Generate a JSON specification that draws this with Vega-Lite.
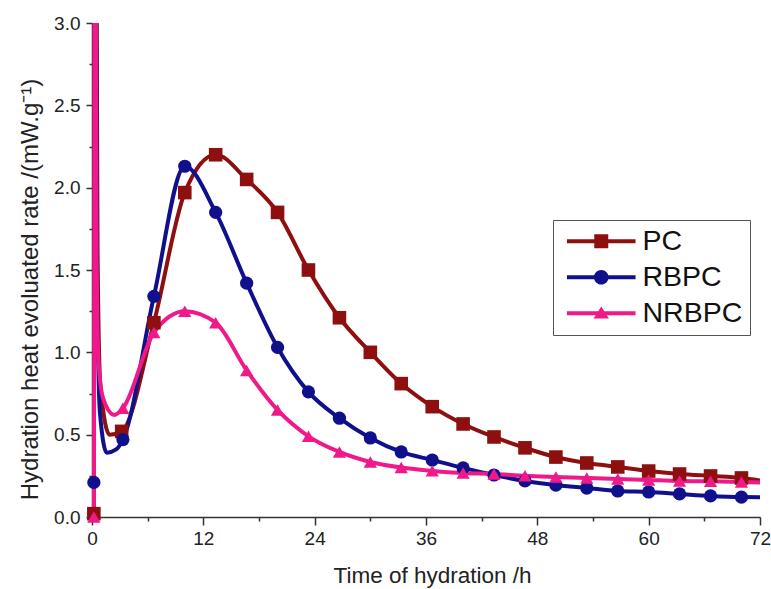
{
  "$schema": "https://vega.github.io/schema/vega-lite/v6.json",
  "width": 668,
  "height": 494,
  "autosize": "none",
  "padding": {"left": 92, "top": 23, "right": 11, "bottom": 72},
  "background": "white",
  "config": {
    "view": {"stroke": null},
    "font": "Liberation Sans",
    "axis": {
      "grid": false,
      "domainColor": "#333333",
      "domainWidth": 1.5,
      "tickColor": "#333333",
      "tickWidth": 1.5,
      "labelFont": "Liberation Sans",
      "labelFontSize": 19,
      "labelColor": "#222222",
      "titleFont": "Liberation Sans",
      "titleFontSize": 22.5,
      "titleFontWeight": "normal",
      "titleColor": "#222222",
      "labelFlush": false,
      "labelOverlap": false
    }
  },
  "datasets": {
    "curve": [
      {"series": "PC", "t": 0.2, "rate": 0.02},
      {"series": "PC", "t": 0.35, "rate": 5.0},
      {"series": "PC", "t": 0.6, "rate": 1.6},
      {"series": "PC", "t": 0.9, "rate": 0.8},
      {"series": "PC", "t": 1.9, "rate": 0.5},
      {"series": "PC", "t": 3.2, "rate": 0.52},
      {"series": "PC", "t": 6.67, "rate": 1.18},
      {"series": "PC", "t": 10, "rate": 1.97},
      {"series": "PC", "t": 13.33, "rate": 2.2},
      {"series": "PC", "t": 16.67, "rate": 2.05},
      {"series": "PC", "t": 20, "rate": 1.85},
      {"series": "PC", "t": 23.33, "rate": 1.5},
      {"series": "PC", "t": 26.67, "rate": 1.21},
      {"series": "PC", "t": 30, "rate": 1.0},
      {"series": "PC", "t": 33.33, "rate": 0.81},
      {"series": "PC", "t": 36.67, "rate": 0.67},
      {"series": "PC", "t": 40, "rate": 0.565},
      {"series": "PC", "t": 43.33, "rate": 0.486},
      {"series": "PC", "t": 46.67, "rate": 0.42},
      {"series": "PC", "t": 50, "rate": 0.364},
      {"series": "PC", "t": 53.33, "rate": 0.328},
      {"series": "PC", "t": 56.67, "rate": 0.304},
      {"series": "PC", "t": 60, "rate": 0.279},
      {"series": "PC", "t": 63.33, "rate": 0.261},
      {"series": "PC", "t": 66.67, "rate": 0.249},
      {"series": "PC", "t": 70, "rate": 0.237},
      {"series": "PC", "t": 72, "rate": 0.222},
      {"series": "RBPC", "t": 0.2, "rate": 0.21},
      {"series": "RBPC", "t": 0.35, "rate": 5.0},
      {"series": "RBPC", "t": 0.55, "rate": 1.44},
      {"series": "RBPC", "t": 0.86, "rate": 0.63},
      {"series": "RBPC", "t": 1.6, "rate": 0.39},
      {"series": "RBPC", "t": 2.6, "rate": 0.41},
      {"series": "RBPC", "t": 3.33, "rate": 0.47},
      {"series": "RBPC", "t": 6.67, "rate": 1.34},
      {"series": "RBPC", "t": 10, "rate": 2.13},
      {"series": "RBPC", "t": 13.33, "rate": 1.85},
      {"series": "RBPC", "t": 16.67, "rate": 1.42},
      {"series": "RBPC", "t": 20, "rate": 1.03},
      {"series": "RBPC", "t": 23.33, "rate": 0.76},
      {"series": "RBPC", "t": 26.67, "rate": 0.6},
      {"series": "RBPC", "t": 30, "rate": 0.48},
      {"series": "RBPC", "t": 33.33, "rate": 0.395},
      {"series": "RBPC", "t": 36.67, "rate": 0.346},
      {"series": "RBPC", "t": 40, "rate": 0.298},
      {"series": "RBPC", "t": 43.33, "rate": 0.255},
      {"series": "RBPC", "t": 46.67, "rate": 0.219},
      {"series": "RBPC", "t": 50, "rate": 0.194},
      {"series": "RBPC", "t": 53.33, "rate": 0.176},
      {"series": "RBPC", "t": 56.67, "rate": 0.158},
      {"series": "RBPC", "t": 60, "rate": 0.152},
      {"series": "RBPC", "t": 63.33, "rate": 0.14},
      {"series": "RBPC", "t": 66.67, "rate": 0.128},
      {"series": "RBPC", "t": 70, "rate": 0.121},
      {"series": "RBPC", "t": 72, "rate": 0.12},
      {"series": "NRBPC", "t": 0.0, "rate": 0.0},
      {"series": "NRBPC", "t": 0.2, "rate": 0.0},
      {"series": "NRBPC", "t": 0.3, "rate": 5.0},
      {"series": "NRBPC", "t": 0.5, "rate": 1.6},
      {"series": "NRBPC", "t": 0.7, "rate": 0.95},
      {"series": "NRBPC", "t": 1.2, "rate": 0.72},
      {"series": "NRBPC", "t": 2.4, "rate": 0.62},
      {"series": "NRBPC", "t": 3.33, "rate": 0.66},
      {"series": "NRBPC", "t": 6.67, "rate": 1.12},
      {"series": "NRBPC", "t": 10, "rate": 1.25},
      {"series": "NRBPC", "t": 13.33, "rate": 1.18},
      {"series": "NRBPC", "t": 16.67, "rate": 0.89},
      {"series": "NRBPC", "t": 20, "rate": 0.65},
      {"series": "NRBPC", "t": 23.33, "rate": 0.49},
      {"series": "NRBPC", "t": 26.67, "rate": 0.395},
      {"series": "NRBPC", "t": 30, "rate": 0.334},
      {"series": "NRBPC", "t": 33.33, "rate": 0.3},
      {"series": "NRBPC", "t": 36.67, "rate": 0.28},
      {"series": "NRBPC", "t": 40, "rate": 0.267},
      {"series": "NRBPC", "t": 43.33, "rate": 0.261},
      {"series": "NRBPC", "t": 46.67, "rate": 0.25},
      {"series": "NRBPC", "t": 50, "rate": 0.243},
      {"series": "NRBPC", "t": 53.33, "rate": 0.237},
      {"series": "NRBPC", "t": 56.67, "rate": 0.231},
      {"series": "NRBPC", "t": 60, "rate": 0.225},
      {"series": "NRBPC", "t": 63.33, "rate": 0.219},
      {"series": "NRBPC", "t": 66.67, "rate": 0.217},
      {"series": "NRBPC", "t": 70, "rate": 0.213},
      {"series": "NRBPC", "t": 72, "rate": 0.21}
    ],
    "markers": [
      {"series": "PC", "t": 0.2, "rate": 0.02},
      {"series": "PC", "t": 3.2, "rate": 0.52},
      {"series": "PC", "t": 6.67, "rate": 1.18},
      {"series": "PC", "t": 10, "rate": 1.97},
      {"series": "PC", "t": 13.33, "rate": 2.2},
      {"series": "PC", "t": 16.67, "rate": 2.05},
      {"series": "PC", "t": 20, "rate": 1.85},
      {"series": "PC", "t": 23.33, "rate": 1.5},
      {"series": "PC", "t": 26.67, "rate": 1.21},
      {"series": "PC", "t": 30, "rate": 1.0},
      {"series": "PC", "t": 33.33, "rate": 0.81},
      {"series": "PC", "t": 36.67, "rate": 0.67},
      {"series": "PC", "t": 40, "rate": 0.565},
      {"series": "PC", "t": 43.33, "rate": 0.486},
      {"series": "PC", "t": 46.67, "rate": 0.42},
      {"series": "PC", "t": 50, "rate": 0.364},
      {"series": "PC", "t": 53.33, "rate": 0.328},
      {"series": "PC", "t": 56.67, "rate": 0.304},
      {"series": "PC", "t": 60, "rate": 0.279},
      {"series": "PC", "t": 63.33, "rate": 0.261},
      {"series": "PC", "t": 66.67, "rate": 0.249},
      {"series": "PC", "t": 70, "rate": 0.237},
      {"series": "RBPC", "t": 0.2, "rate": 0.21},
      {"series": "RBPC", "t": 3.33, "rate": 0.47},
      {"series": "RBPC", "t": 6.67, "rate": 1.34},
      {"series": "RBPC", "t": 10, "rate": 2.13},
      {"series": "RBPC", "t": 13.33, "rate": 1.85},
      {"series": "RBPC", "t": 16.67, "rate": 1.42},
      {"series": "RBPC", "t": 20, "rate": 1.03},
      {"series": "RBPC", "t": 23.33, "rate": 0.76},
      {"series": "RBPC", "t": 26.67, "rate": 0.6},
      {"series": "RBPC", "t": 30, "rate": 0.48},
      {"series": "RBPC", "t": 33.33, "rate": 0.395},
      {"series": "RBPC", "t": 36.67, "rate": 0.346},
      {"series": "RBPC", "t": 40, "rate": 0.298},
      {"series": "RBPC", "t": 43.33, "rate": 0.255},
      {"series": "RBPC", "t": 46.67, "rate": 0.219},
      {"series": "RBPC", "t": 50, "rate": 0.194},
      {"series": "RBPC", "t": 53.33, "rate": 0.176},
      {"series": "RBPC", "t": 56.67, "rate": 0.158},
      {"series": "RBPC", "t": 60, "rate": 0.152},
      {"series": "RBPC", "t": 63.33, "rate": 0.14},
      {"series": "RBPC", "t": 66.67, "rate": 0.128},
      {"series": "RBPC", "t": 70, "rate": 0.121},
      {"series": "NRBPC", "t": 0.2, "rate": 0.0},
      {"series": "NRBPC", "t": 3.33, "rate": 0.66},
      {"series": "NRBPC", "t": 6.67, "rate": 1.12},
      {"series": "NRBPC", "t": 10, "rate": 1.25},
      {"series": "NRBPC", "t": 13.33, "rate": 1.18},
      {"series": "NRBPC", "t": 16.67, "rate": 0.89},
      {"series": "NRBPC", "t": 20, "rate": 0.65},
      {"series": "NRBPC", "t": 23.33, "rate": 0.49},
      {"series": "NRBPC", "t": 26.67, "rate": 0.395},
      {"series": "NRBPC", "t": 30, "rate": 0.334},
      {"series": "NRBPC", "t": 33.33, "rate": 0.3},
      {"series": "NRBPC", "t": 36.67, "rate": 0.28},
      {"series": "NRBPC", "t": 40, "rate": 0.267},
      {"series": "NRBPC", "t": 43.33, "rate": 0.261},
      {"series": "NRBPC", "t": 46.67, "rate": 0.25},
      {"series": "NRBPC", "t": 50, "rate": 0.243},
      {"series": "NRBPC", "t": 53.33, "rate": 0.237},
      {"series": "NRBPC", "t": 56.67, "rate": 0.231},
      {"series": "NRBPC", "t": 60, "rate": 0.225},
      {"series": "NRBPC", "t": 63.33, "rate": 0.219},
      {"series": "NRBPC", "t": 66.67, "rate": 0.217},
      {"series": "NRBPC", "t": 70, "rate": 0.213}
    ]
  },
  "layer": [
    {
      "data": {"name": "curve"},
      "mark": {"type": "line", "interpolate": "monotone", "strokeWidth": 4, "clip": true},
      "encoding": {
        "x": {
          "field": "t", "type": "quantitative",
          "scale": {"domain": [0, 72], "nice": false, "zero": false},
          "axis": {
            "values": [0, 12, 24, 36, 48, 60, 72],
            "tickSize": 8,
            "labelPadding": 4,
            "title": "Time of hydration /h",
            "titleX": 340,
            "titleY": 65,
            "titleBaseline": "alphabetic",
            "encode": {"ticks": {"update": {"y2": {"value": -8}}}}
          }
        },
        "y": {
          "field": "rate", "type": "quantitative",
          "scale": {"domain": [0, 3], "nice": false},
          "axis": {
            "values": [0, 0.5, 1, 1.5, 2, 2.5, 3],
            "format": ".1f",
            "tickSize": 6,
            "labelPadding": 6,
            "title": "Hydration heat evoluated rate /(mW.g⁻¹)",
            "titleFontSize": 24,
            "titleX": -55,
            "titleY": 266,
            "titleAngle": -90,
            "titleAlign": "center",
            "titleBaseline": "alphabetic",
            "encode": {"ticks": {"update": {"x2": {"value": 6}}}}
          }
        },
        "color": {
          "field": "series", "type": "nominal",
          "scale": {"domain": ["PC", "RBPC", "NRBPC"], "range": ["#8E0F0F", "#10108C", "#F0198A"]},
          "legend": {
            "orient": "none",
            "legendX": 461,
            "legendY": 197,
            "title": null,
            "padding": 7,
            "strokeColor": "#555555",
            "fillColor": "white",
            "symbolSize": 196,
            "symbolOffset": 27,
            "labelOffset": 27,
            "labelFontSize": 28.5,
            "labelFont": "Liberation Sans",
            "labelColor": "#111111",
            "rowPadding": 7,
            "encode": {
              "symbols": {
                "update": {
                  "shape": {"signal": "datum.value === 'PC' ? 'M-4.9,-0.28H4.9V0.28H-4.9Z M-1,-1H1V1H-1Z' : datum.value === 'RBPC' ? 'M-4.9,-0.28H4.9V0.28H-4.9Z M-1.05,0A1.05,1.05 0 1,1 1.05,0A1.05,1.05 0 1,1 -1.05,0Z' : 'M-4.9,-0.28H4.9V0.28H-4.9Z M0,-0.95L1.1,0.75H-1.1Z'"},
                  "fill": {"scale": "color", "field": "value"},
                  "stroke": {"value": "transparent"},
                  "strokeWidth": {"value": 0},
                  "opacity": {"value": 1},
                  "fillOpacity": {"value": 1}
                }
              }
            }
          }
        }
      }
    },
    {
      "data": {"name": "markers"},
      "transform": [{"filter": "datum.series === 'PC'"}],
      "mark": {"type": "point", "shape": "square", "filled": true, "opacity": 1, "size": 185},
      "encoding": {
        "x": {
          "field": "t", "type": "quantitative",
          "axis": {
            "orient": "bottom",
            "values": [6, 18, 30, 42, 54, 66],
            "labels": false,
            "domain": false,
            "tickSize": 4,
            "title": null,
            "encode": {"ticks": {"update": {"y2": {"value": -4}}}}
          }
        },
        "y": {
          "field": "rate", "type": "quantitative",
          "axis": {
            "orient": "left",
            "values": [0.25, 0.75, 1.25, 1.75, 2.25, 2.75],
            "labels": false,
            "domain": false,
            "tickSize": 3,
            "title": null,
            "encode": {"ticks": {"update": {"x2": {"value": 3}}}}
          }
        },
        "color": {"field": "series", "type": "nominal"}
      }
    },
    {
      "data": {"name": "markers"},
      "transform": [{"filter": "datum.series === 'RBPC'"}],
      "mark": {"type": "point", "shape": "circle", "filled": true, "opacity": 1, "size": 175},
      "encoding": {
        "x": {"field": "t", "type": "quantitative", "axis": null},
        "y": {"field": "rate", "type": "quantitative", "axis": null},
        "color": {"field": "series", "type": "nominal"}
      }
    },
    {
      "data": {"name": "markers"},
      "transform": [{"filter": "datum.series === 'NRBPC'"}],
      "mark": {"type": "point", "shape": "triangle-up", "filled": true, "opacity": 1, "size": 175},
      "encoding": {
        "x": {"field": "t", "type": "quantitative", "axis": null},
        "y": {"field": "rate", "type": "quantitative", "axis": null},
        "color": {"field": "series", "type": "nominal"}
      }
    }
  ],
  "resolve": {"axis": {"x": "independent", "y": "independent"}}
}
